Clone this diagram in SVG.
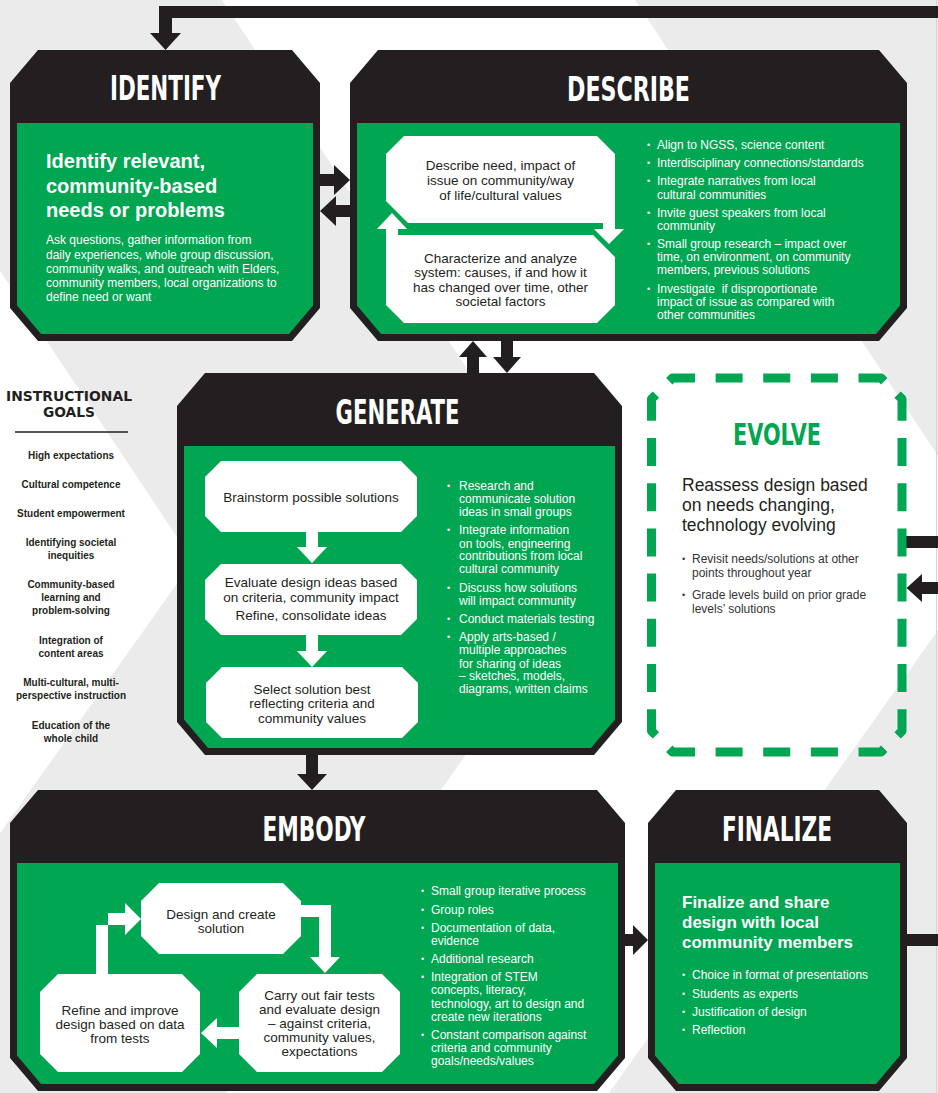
<svg xmlns="http://www.w3.org/2000/svg" width="938" height="1093" viewBox="0 0 938 1093">
<style>
.blk{fill:#231f20}
.grn{fill:#00a651}
.wht{fill:#ffffff}
.ttl{font-family:'DejaVu Sans Condensed','DejaVu Sans',sans-serif;font-weight:bold;font-size:33px;fill:#ffffff;text-anchor:middle}
.ig{font-family:'DejaVu Sans Condensed','DejaVu Sans',sans-serif;font-weight:bold;font-size:13.5px;fill:#231f20;text-anchor:middle}
.h{font-family:'Liberation Sans',Arial,sans-serif;font-weight:bold;font-size:20px;fill:#ffffff}
.hf{font-family:'Liberation Sans',Arial,sans-serif;font-weight:bold;font-size:17px;fill:#ffffff}
.b{font-family:'Liberation Sans',Arial,sans-serif;font-size:12px;fill:#ffffff}
.bd{font-family:'Liberation Sans',Arial,sans-serif;font-size:12px;fill:#333333}
.dot{font-family:'Liberation Sans',Arial,sans-serif;font-size:9px}
.bx{font-family:'Liberation Sans',Arial,sans-serif;font-size:13.5px;fill:#231f20;text-anchor:middle}
.g{font-family:'Liberation Sans',Arial,sans-serif;font-weight:bold;font-size:10px;fill:#231f20;text-anchor:middle}
.dash{fill:none;stroke:#00a651;stroke-width:9;stroke-linejoin:round}
</style>
<g id="background">
<rect width="938" height="1093" fill="#ebebeb"/>
<polygon points="222,0 635,0 998,546 609,1093 226,1093 599,567" fill="#ffffff"/>
<polygon points="-300,0 -180,0 193,561 -184,1093 -300,1093" fill="#ffffff"/>
<line x1="936.5" y1="0" x2="936.5" y2="1093" stroke="#d4d4d4" stroke-width="1"/>
</g>
<g id="connectors" class="blk">
<path d="M938,6 H159 V33 H150 L165.5,50 L181,33 H172 V18 H938 Z"/>
<path d="M320,174 H334 V165 L350,180 L334,195 V186 H320 Z"/>
<path d="M350,205 H336 V196 L320,211 L336,226 V217 H350 Z"/>
<path d="M467,373 V357 H459 L473,341 L487,357 H479 V373 Z"/>
<path d="M501,341 V357 H493 L507,373 L521,357 H513 V341 Z"/>
<path d="M306,755 V774 H297 L312,790 L327,774 H318 V755 Z"/>
<path d="M625,934 H633 V925 L648,940 L633,955 V946 H625 Z"/>
<rect x="907" y="934" width="31" height="12"/>
<rect x="906" y="536" width="32" height="12"/>
<path d="M938,582 H922 V574 L906.5,588 L922,602 V594 H938 Z"/>
</g>
<g id="goals">
<text class="ig" x="69" y="401" textLength="126" lengthAdjust="spacingAndGlyphs">INSTRUCTIONAL</text>
<text class="ig" x="69" y="417" textLength="52" lengthAdjust="spacingAndGlyphs">GOALS</text>
<line x1="15" y1="432" x2="128" y2="432" stroke="#231f20" stroke-width="1.6"/>
<text class="g"><tspan x="71" y="458.5">High expectations</tspan><tspan x="71" y="487.5">Cultural competence</tspan><tspan x="71" y="516.5">Student empowerment</tspan><tspan x="71" y="545.5">Identifying societal</tspan><tspan x="71" y="558.5">inequities</tspan><tspan x="71" y="587.5">Community-based</tspan><tspan x="71" y="600.5">learning and</tspan><tspan x="71" y="613.5">problem-solving</tspan><tspan x="71" y="643.5">Integration of</tspan><tspan x="71" y="656.5">content areas</tspan><tspan x="71" y="685.5">Multi-cultural, multi-</tspan><tspan x="71" y="698.5">perspective instruction</tspan><tspan x="71" y="728.5">Education of the</tspan><tspan x="71" y="741.5">whole child</tspan></text>
</g>
<g id="identify">
<path class="blk" d="M38,50 H292 L320,83 V308 L292,341 H38 L10,308 V83 Z"/>
<path class="grn" d="M17,123 H313 V305.5 L289,334 H41 L17,305.5 Z"/>
<text class="ttl" x="165.5" y="100" textLength="111" lengthAdjust="spacingAndGlyphs">IDENTIFY</text>
<text class="h"><tspan x="46" y="168">Identify relevant,</tspan><tspan x="46" y="192.5">community-based</tspan><tspan x="46" y="217">needs or problems</tspan></text>
<text class="b"><tspan x="46" y="244">Ask questions, gather information from</tspan><tspan x="46" y="258.5">daily experiences, whole group discussion,</tspan><tspan x="46" y="273">community walks, and outreach with Elders,</tspan><tspan x="46" y="287">community members, local organizations to</tspan><tspan x="46" y="301">define need or want</tspan></text>
</g>
<g id="describe">
<path class="blk" d="M378,50 H879 L907,83 V308 L879,341 H378 L350,308 V83 Z"/>
<path class="grn" d="M357,123 H900 V305.5 L876,334 H381 L357,305.5 Z"/>
<text class="ttl" x="628.5" y="101" textLength="123" lengthAdjust="spacingAndGlyphs">DESCRIBE</text>
<path class="wht" d="M404,136 H597 L615,154 V229 H624 L609,244 L594,229 H603 V223 H408 L386,201 V154 Z"/>
<path class="wht" d="M398,235 H593 L615,257 V305 L597,323 H404 L386,305 V229 H377 L392,213 L407,229 H398 Z"/>
<text class="bx"><tspan x="500.5" y="169.5">Describe need, impact of</tspan><tspan x="500.5" y="184.5">issue on community/way</tspan><tspan x="500.5" y="199.5">of life/cultural values</tspan></text>
<text class="bx"><tspan x="500.5" y="263">Characterize and analyze</tspan><tspan x="500.5" y="277">system: causes, if and how it</tspan><tspan x="500.5" y="291.5">has changed over time, other</tspan><tspan x="500.5" y="305.5">societal factors</tspan></text>
<text class="dot wht"><tspan x="647" y="147.5">•</tspan><tspan x="647" y="166">•</tspan><tspan x="647" y="184">•</tspan><tspan x="647" y="216">•</tspan><tspan x="647" y="247">•</tspan><tspan x="647" y="292">•</tspan></text>
<text class="b"><tspan x="657" y="148.5">Align to NGSS, science content</tspan><tspan x="657" y="167">Interdisciplinary connections/standards</tspan><tspan x="657" y="185">Integrate narratives from local</tspan><tspan x="657" y="198.5">cultural communities</tspan><tspan x="657" y="217">Invite guest speakers from local</tspan><tspan x="657" y="230">community</tspan><tspan x="657" y="248">Small group research – impact over</tspan><tspan x="657" y="261">time, on environment, on community</tspan><tspan x="657" y="274">members, previous solutions</tspan><tspan x="657" y="293">Investigate&#160; if disproportionate</tspan><tspan x="657" y="305.5">impact of issue as compared with</tspan><tspan x="657" y="318.5">other communities</tspan></text>
</g>
<g id="generate">
<path class="blk" d="M205,373 H594 L622,406 V722 L594,755 H205 L177,722 V406 Z"/>
<path class="grn" d="M184,446 H615 V719.5 L591,748 H208 L184,719.5 Z"/>
<text class="ttl" x="397.5" y="424" textLength="124" lengthAdjust="spacingAndGlyphs">GENERATE</text>
<path class="wht" d="M221,461 H401 L417,477 V516 L401,532 H221 L205,516 V477 Z"/>
<path class="wht" d="M306,531 V547 H297 L312,563 L327,547 H318 V531 Z"/>
<path class="wht" d="M221,564 H401 L417,580 V619 L401,635 H221 L205,619 V580 Z"/>
<path class="wht" d="M306,634 V651 H297 L312,667 L327,651 H318 V634 Z"/>
<path class="wht" d="M222,667 H402 L418,683 V722 L402,738 H222 L206,722 V683 Z"/>
<text class="bx"><tspan x="311" y="502">Brainstorm possible solutions</tspan></text>
<text class="bx"><tspan x="311" y="587">Evaluate design ideas based</tspan><tspan x="311" y="601.5">on criteria, community impact</tspan><tspan x="311" y="620">Refine, consolidate ideas</tspan></text>
<text class="bx"><tspan x="312" y="694">Select solution best</tspan><tspan x="312" y="708">reflecting criteria and</tspan><tspan x="312" y="722.5">community values</tspan></text>
<text class="dot wht"><tspan x="447" y="488.5">•</tspan><tspan x="447" y="533">•</tspan><tspan x="447" y="590.5">•</tspan><tspan x="447" y="621.5">•</tspan><tspan x="447" y="640">•</tspan></text>
<text class="b"><tspan x="459" y="489.5">Research and</tspan><tspan x="459" y="502.5">communicate solution</tspan><tspan x="459" y="516">ideas in small groups</tspan><tspan x="459" y="534">Integrate information</tspan><tspan x="459" y="547.5">on tools, engineering</tspan><tspan x="459" y="560">contributions from local</tspan><tspan x="459" y="573">cultural community</tspan><tspan x="459" y="591.5">Discuss how solutions</tspan><tspan x="459" y="604.5">will impact community</tspan><tspan x="459" y="622.5">Conduct materials testing</tspan><tspan x="459" y="641">Apply arts-based /</tspan><tspan x="459" y="654">multiple approaches</tspan><tspan x="459" y="667.5">for sharing of ideas</tspan><tspan x="459" y="680">– sketches, models,</tspan><tspan x="459" y="693">diagrams, written claims</tspan></text>
</g>
<g id="evolve">
<path class="dash" d="M662,388.5 L672.5,378 H881 L891.5,388.5" stroke-dasharray="27 20.64" stroke-dashoffset="37.32"/>
<path class="dash" d="M891.5,388.5 L902,399 V731 L891.5,741.5" stroke-dasharray="28 17.21" stroke-dashoffset="36.6"/>
<path class="dash" d="M891.5,741.5 L881,752 H672.5 L662,741.5" stroke-dasharray="27 20.64" stroke-dashoffset="37.32"/>
<path class="dash" d="M662,741.5 L651.5,731 V399 L662,388.5" stroke-dasharray="28 17.21" stroke-dashoffset="36.6"/>
<text class="ttl" x="777" y="445" textLength="88" lengthAdjust="spacingAndGlyphs" style="fill:#00a651;font-size:31px">EVOLVE</text>
<text style="font-family:'Liberation Sans',Arial,sans-serif;font-size:17.5px;fill:#231f20"><tspan x="682" y="491">Reassess design based</tspan><tspan x="682" y="511">on needs changing,</tspan><tspan x="682" y="531">technology evolving</tspan></text>
<text class="dot" fill="#333333"><tspan x="682" y="561.5">•</tspan><tspan x="682" y="598">•</tspan></text>
<text class="bd"><tspan x="692" y="562.5">Revisit needs/solutions at other</tspan><tspan x="692" y="576.5">points throughout year</tspan><tspan x="692" y="599">Grade levels build on prior grade</tspan><tspan x="692" y="612.5">levels’ solutions</tspan></text>
</g>
<g id="embody">
<path class="blk" d="M38,790 H597 L625,823 V1058 L597,1091 H38 L10,1058 V823 Z"/>
<path class="grn" d="M17,863 H618 V1055.5 L594,1084 H41 L17,1055.5 Z"/>
<text class="ttl" x="314" y="841" textLength="103" lengthAdjust="spacingAndGlyphs">EMBODY</text>
<path class="wht" d="M159,883 H283 L301,901 V905 H331 V957 H340 L325,973 L310,957 H319 V917 H301 V936 L283,954 H159 L141,936 V901 Z"/>
<path class="wht" d="M58,974 H96 V925 H125 V935 L141,919 L125,903 V913 H108 V974 H182 L200,992 V1054 L182,1072 H58 L40,1054 V992 Z"/>
<path class="wht" d="M257,974 H382 L400,992 V1054 L382,1072 H257 L239,1054 V1039 H217 V1048 L201,1033 L217,1018 V1027 H239 V992 Z"/>
<text class="bx"><tspan x="221" y="919">Design and create</tspan><tspan x="221" y="933">solution</tspan></text>
<text class="bx"><tspan x="120" y="1014.5">Refine and improve</tspan><tspan x="120" y="1028.5">design based on data</tspan><tspan x="120" y="1042.5">from tests</tspan></text>
<text class="bx"><tspan x="319.5" y="999.5">Carry out fair tests</tspan><tspan x="319.5" y="1013.5">and evaluate design</tspan><tspan x="319.5" y="1028">– against criteria,</tspan><tspan x="319.5" y="1042">community values,</tspan><tspan x="319.5" y="1056">expectations</tspan></text>
<text class="dot wht"><tspan x="421" y="894">•</tspan><tspan x="421" y="912.5">•</tspan><tspan x="421" y="930.5">•</tspan><tspan x="421" y="962">•</tspan><tspan x="421" y="980">•</tspan><tspan x="421" y="1038">•</tspan></text>
<text class="b"><tspan x="431" y="895">Small group iterative process</tspan><tspan x="431" y="913.5">Group roles</tspan><tspan x="431" y="931.5">Documentation of data,</tspan><tspan x="431" y="945">evidence</tspan><tspan x="431" y="963">Additional research</tspan><tspan x="431" y="981">Integration of STEM</tspan><tspan x="431" y="994">concepts, literacy,</tspan><tspan x="431" y="1007.5">technology, art to design and</tspan><tspan x="431" y="1021">create new iterations</tspan><tspan x="431" y="1039">Constant comparison against</tspan><tspan x="431" y="1052">criteria and community</tspan><tspan x="431" y="1065">goals/needs/values</tspan></text>
</g>
<g id="finalize">
<path class="blk" d="M676,790 H879 L907,823 V1058 L879,1091 H676 L648,1058 V823 Z"/>
<path class="grn" d="M655,863 H900 V1055.5 L876,1084 H679 L655,1055.5 Z"/>
<text class="ttl" x="777" y="841" textLength="110" lengthAdjust="spacingAndGlyphs">FINALIZE</text>
<text class="hf"><tspan x="682" y="908">Finalize and share</tspan><tspan x="682" y="928">design with local</tspan><tspan x="682" y="948">community members</tspan></text>
<text class="dot wht"><tspan x="682" y="978">•</tspan><tspan x="682" y="997">•</tspan><tspan x="682" y="1015">•</tspan><tspan x="682" y="1033">•</tspan></text>
<text class="b"><tspan x="692" y="979">Choice in format of presentations</tspan><tspan x="692" y="998">Students as experts</tspan><tspan x="692" y="1016">Justification of design</tspan><tspan x="692" y="1034">Reflection</tspan></text>
</g>
</svg>
